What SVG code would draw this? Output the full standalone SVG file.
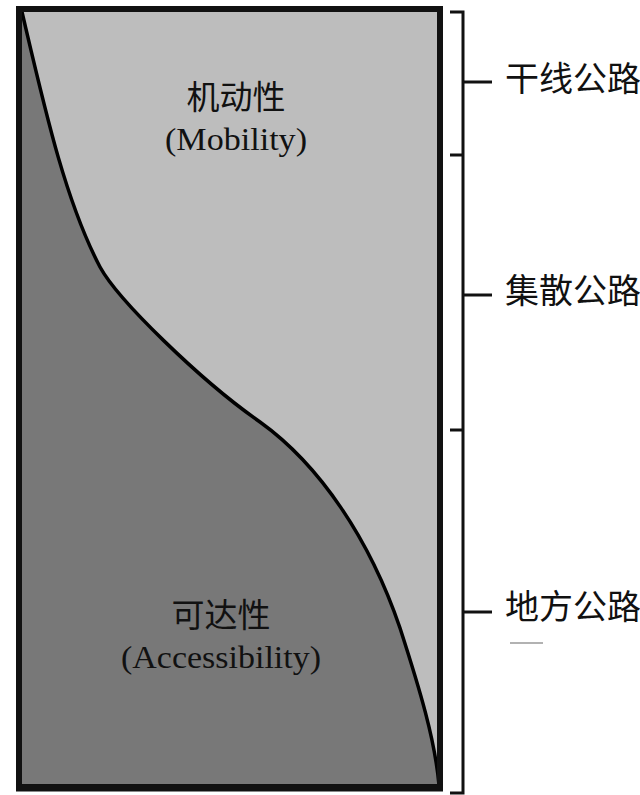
<svg xmlns="http://www.w3.org/2000/svg" width="640" height="795" viewBox="0 0 640 795">
<style>
.cjk{font-family:"Noto Sans CJK SC","Noto Sans",sans-serif;fill:#111;}
.en{font-family:"Liberation Serif","Times New Roman",serif;fill:#111;}
.br{stroke:#111;stroke-width:3;fill:none;}
</style>
<rect width="640" height="795" fill="#ffffff"/>
<g id="chart">
<rect x="19" y="9" width="421" height="778" fill="#bdbdbd"/>
<path id="accessibility-area" d="M22,12 C45,110 65,200 100,267 C118,300 200,380 260,422 C320,465 370,540 400,628 C420,690 435,740 439,785 L22,785 Z" fill="#787878"/>
<path id="curve" d="M22,12 C45,110 65,200 100,267 C118,300 200,380 260,422 C320,465 370,540 400,628 C420,690 435,740 439,785" fill="none" stroke="#000" stroke-width="3.5"/>
<rect x="19" y="9" width="421" height="778" fill="none" stroke="#111" stroke-width="6"/>
<line x1="16" y1="788" x2="443" y2="788" stroke="#111" stroke-width="7"/>
</g>
<g id="mobility-label">
<text class="cjk" x="236" y="109" font-size="33" text-anchor="middle">机动性</text>
<text class="en" x="236" y="150" font-size="31" text-anchor="middle" textLength="142" lengthAdjust="spacingAndGlyphs">(Mobility)</text>
</g>
<g id="accessibility-label">
<text class="cjk" x="221" y="627" font-size="33" text-anchor="middle">可达性</text>
<text class="en" x="221" y="668" font-size="31" text-anchor="middle" textLength="200" lengthAdjust="spacingAndGlyphs">(Accessibility)</text>
</g>
<g id="brackets">
<path class="br" d="M450,12 H463 V793 H450"/>
<path class="br" d="M450,155 H463"/>
<path class="br" d="M450,430 H463"/>
<path class="br" d="M463,82 H492"/>
<path class="br" d="M463,295 H492"/>
<path class="br" d="M463,612 H492"/>
</g>
<g id="arterial">
<text class="cjk" x="505" y="91" font-size="34">干线公路</text>
</g>
<g id="collector">
<text class="cjk" x="505" y="303" font-size="34">集散公路</text>
</g>
<g id="local">
<text class="cjk" x="505" y="619" font-size="34">地方公路</text>
<line x1="510" y1="643" x2="543" y2="643" stroke="#999" stroke-width="1.5"/>
</g>
</svg>
